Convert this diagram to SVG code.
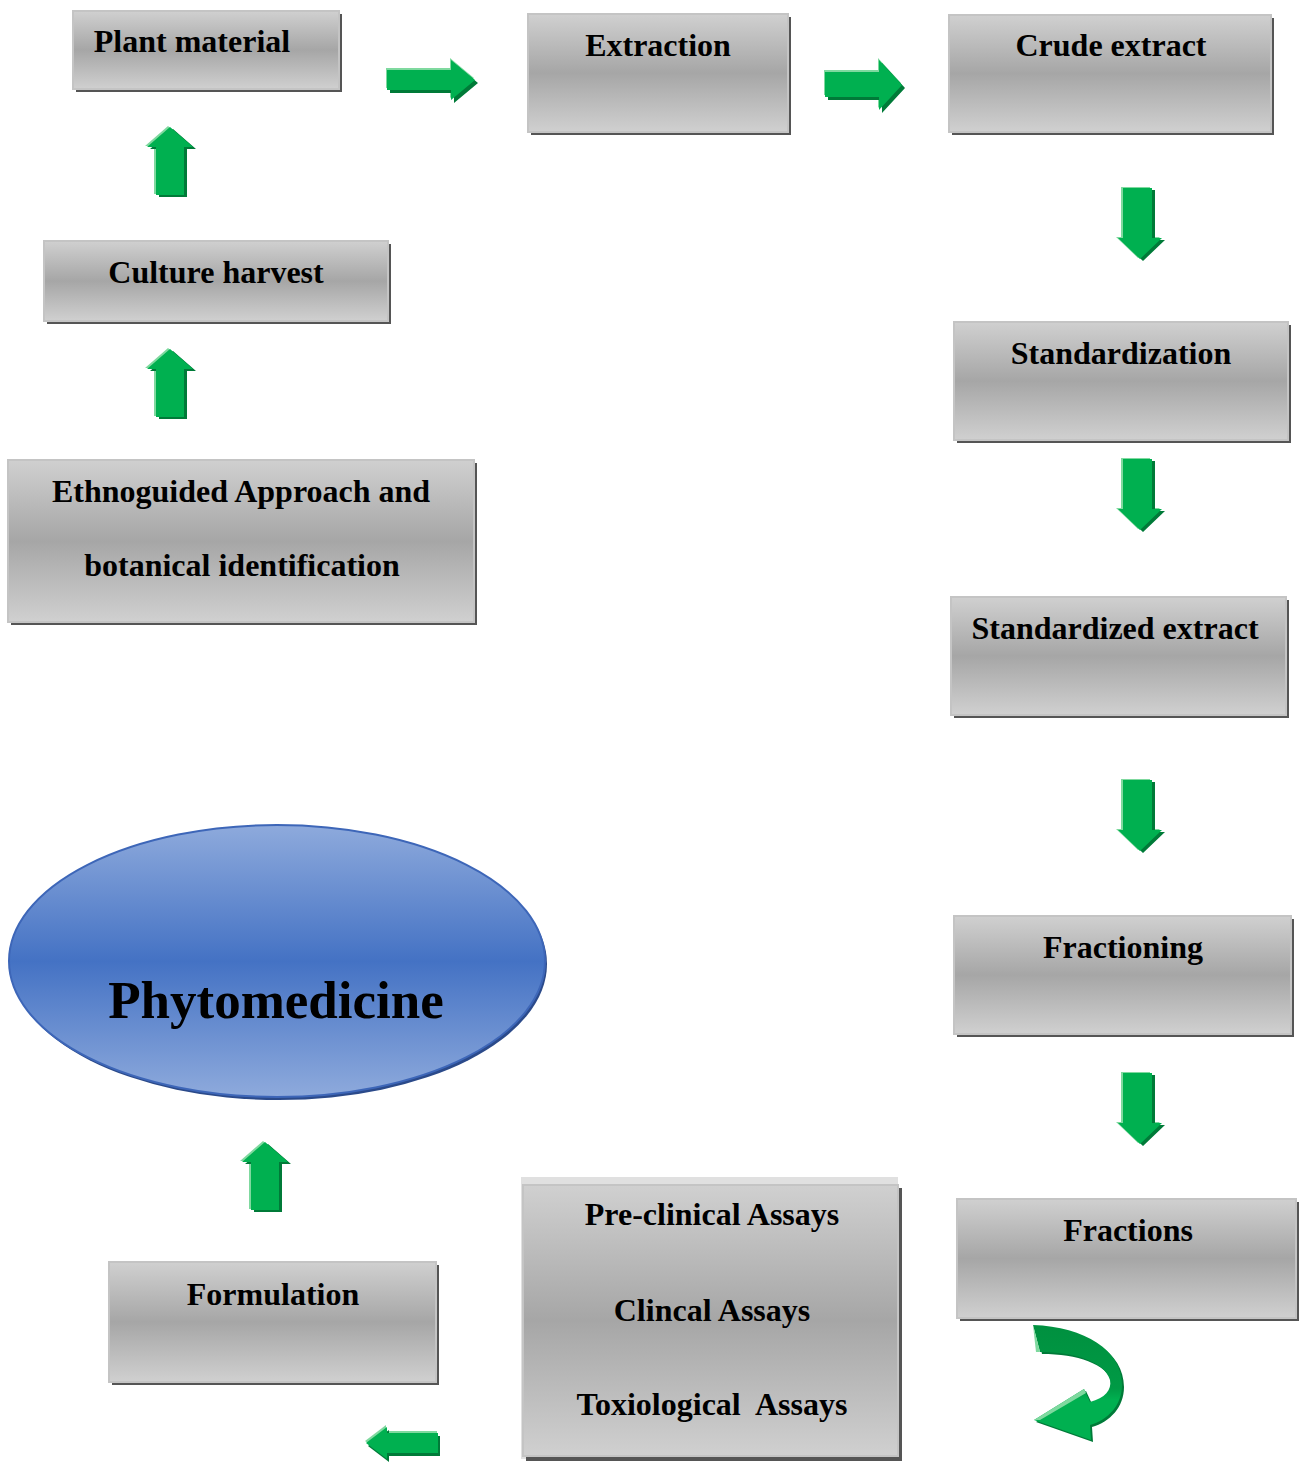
<svg xmlns="http://www.w3.org/2000/svg" width="1299" height="1463" viewBox="0 0 1299 1463">
<defs>
<linearGradient id="gbox" x1="0" y1="0" x2="0" y2="1">
<stop offset="0" stop-color="#d0d0d0"/>
<stop offset="0.5" stop-color="#a6a6a6"/>
<stop offset="1" stop-color="#d0d0d0"/>
</linearGradient>
<linearGradient id="gell" x1="0" y1="0" x2="0" y2="1">
<stop offset="0" stop-color="#8eaadc"/>
<stop offset="0.5" stop-color="#4472c4"/>
<stop offset="1" stop-color="#8eaadc"/>
</linearGradient>
<linearGradient id="gcurve" x1="0" y1="0" x2="0" y2="1">
<stop offset="0" stop-color="#00903f"/>
<stop offset="0.55" stop-color="#009a45"/>
<stop offset="0.65" stop-color="#00b050"/>
<stop offset="1" stop-color="#00b050"/>
</linearGradient>
<path id="arR" d="M0,10 L64,10 L64,0 L88,20 L64,40 L64,30 L0,30 Z"/>
<path id="arR2" d="M0,12 L54,12 L54,0 L77,25 L54,50 L54,37 L0,37 Z"/>
<path id="arU" d="M9,68 L9,20 L0,20 L23,0 L46,20 L37,20 L37,68 Z"/>
<path id="arD" d="M5,0 L34,0 L34,50 L44,50 L22,71 L0,50 L5,50 Z"/>
<path id="arL" d="M72,6 L21,6 L21,0 L0,16 L21,32 L21,26 L72,26 Z"/>
</defs>
<style>
.shadow{fill:#555555}
.box{fill:url(#gbox);stroke:#c4c4c4;stroke-width:2}
.t{font-family:"Liberation Serif","Times New Roman",serif;font-weight:bold;font-size:32px;fill:#000;text-anchor:middle}
.big{font-size:53px}
.hl{fill:#7fd99f}
.sh{fill:#007a38}
.ar{fill:#00b050}
</style>
<rect width="1299" height="1463" fill="#ffffff"/>

<g id="connectors">
<g transform="translate(387,60)"><use href="#arR" class="hl" transform="translate(-1,-2)"/><use href="#arR" class="sh" transform="translate(3,3)"/><use href="#arR" class="ar"/></g>
<g transform="translate(825,60)"><use href="#arR2" class="hl" transform="translate(-1,-2)"/><use href="#arR2" class="sh" transform="translate(3,3)"/><use href="#arR2" class="ar"/></g>
<g transform="translate(147,127)"><use href="#arU" class="hl" transform="translate(-2,-1)"/><use href="#arU" class="sh" transform="translate(3,2)"/><use href="#arU" class="ar"/></g>
<g transform="translate(147,349)"><use href="#arU" class="hl" transform="translate(-2,-1)"/><use href="#arU" class="sh" transform="translate(3,2)"/><use href="#arU" class="ar"/></g>
<g transform="translate(242,1142)"><use href="#arU" class="hl" transform="translate(-2,-1)"/><use href="#arU" class="sh" transform="translate(3,2)"/><use href="#arU" class="ar"/></g>
<g transform="translate(1118,188)"><use href="#arD" class="hl" transform="translate(-2,-1)"/><use href="#arD" class="sh" transform="translate(3,2)"/><use href="#arD" class="ar"/></g>
<g transform="translate(1118,459)"><use href="#arD" class="hl" transform="translate(-2,-1)"/><use href="#arD" class="sh" transform="translate(3,2)"/><use href="#arD" class="ar"/></g>
<g transform="translate(1118,780)"><use href="#arD" class="hl" transform="translate(-2,-1)"/><use href="#arD" class="sh" transform="translate(3,2)"/><use href="#arD" class="ar"/></g>
<g transform="translate(1118,1073)"><use href="#arD" class="hl" transform="translate(-2,-1)"/><use href="#arD" class="sh" transform="translate(3,2)"/><use href="#arD" class="ar"/></g>
<g transform="translate(366,1427)"><use href="#arL" class="hl" transform="translate(-1,-2)"/><use href="#arL" class="sh" transform="translate(2,3)"/><use href="#arL" class="ar"/></g>
<g id="curved-arrow">
<path d="M1036,1328 C1087,1330 1124,1352 1124,1387 C1124,1407 1110,1422 1092,1427 L1093,1442 L1036,1422 L1086,1391 L1092,1404 C1107,1400 1114,1392 1112,1382 C1107,1364 1077,1354 1042,1354 Z" class="sh"/>
<path d="M1033,1325 C1085,1327 1122,1350 1122,1385 C1122,1405 1108,1420 1090,1425 L1091,1440 L1034,1420 L1084,1389 L1090,1402 C1105,1398 1112,1390 1110,1380 C1105,1362 1075,1352 1040,1352 Z" fill="url(#gcurve)"/>
<path d="M1033,1325 L1040,1352 L1036,1352 Z" class="hl"/>
<path d="M1034,1420 L1084,1389 L1086,1393 L1040,1420 Z" class="hl"/>
</g>
</g>

<g id="plant-material"><rect class="shadow" x="76" y="14" width="266" height="78"/><rect class="box" x="73" y="11" width="266" height="78"/><text class="t" x="192" y="52">Plant material</text></g>
<g id="extraction"><rect class="shadow" x="531" y="17" width="260" height="118"/><rect class="box" x="528" y="14" width="260" height="118"/><text class="t" x="658" y="56">Extraction</text></g>
<g id="crude-extract"><rect class="shadow" x="952" y="18" width="322" height="117"/><rect class="box" x="949" y="15" width="322" height="117"/><text class="t" x="1111" y="56">Crude extract</text></g>
<g id="culture-harvest"><rect class="shadow" x="47" y="244" width="344" height="80"/><rect class="box" x="44" y="241" width="344" height="80"/><text class="t" x="216" y="283">Culture harvest</text></g>
<g id="standardization"><rect class="shadow" x="957" y="325" width="334" height="118"/><rect class="box" x="954" y="322" width="334" height="118"/><text class="t" x="1121" y="364">Standardization</text></g>
<g id="ethnoguided"><rect class="shadow" x="11" y="463" width="466" height="162"/><rect class="box" x="8" y="460" width="466" height="162"/><text class="t" x="241" y="502">Ethnoguided Approach and</text><text class="t" x="242" y="576">botanical identification</text></g>
<g id="standardized-extract"><rect class="shadow" x="954" y="600" width="335" height="118"/><rect class="box" x="951" y="597" width="335" height="118"/><text class="t" x="1115" y="639">Standardized extract</text></g>
<g id="fractioning"><rect class="shadow" x="957" y="919" width="337" height="118"/><rect class="box" x="954" y="916" width="337" height="118"/><text class="t" x="1123" y="958">Fractioning</text></g>
<g id="fractions"><rect class="shadow" x="960" y="1202" width="339" height="119"/><rect class="box" x="957" y="1199" width="339" height="119"/><text class="t" x="1128" y="1241">Fractions</text></g>
<g id="formulation"><rect class="shadow" x="112" y="1265" width="327" height="120"/><rect class="box" x="109" y="1262" width="327" height="120"/><text class="t" x="273" y="1305">Formulation</text></g>
<g id="assays"><rect x="521" y="1177" width="377" height="282" fill="#e0e0e0"/><rect class="shadow" x="526" y="1188" width="376" height="273"/><rect class="box" x="523" y="1185" width="375" height="271"/><text class="t" x="712" y="1225">Pre-clinical Assays</text><text class="t" x="712" y="1321">Clincal Assays</text><text class="t" x="712" y="1415" xml:space="preserve" style="white-space:pre">Toxiological  Assays</text></g>
<g id="phytomedicine"><ellipse cx="279" cy="964" rx="268" ry="136" fill="#2b4a8a"/><ellipse cx="277" cy="961" rx="268" ry="136" fill="url(#gell)" stroke="#3d66b8" stroke-width="2"/><text class="t big" x="276" y="1018">Phytomedicine</text></g>
</svg>
